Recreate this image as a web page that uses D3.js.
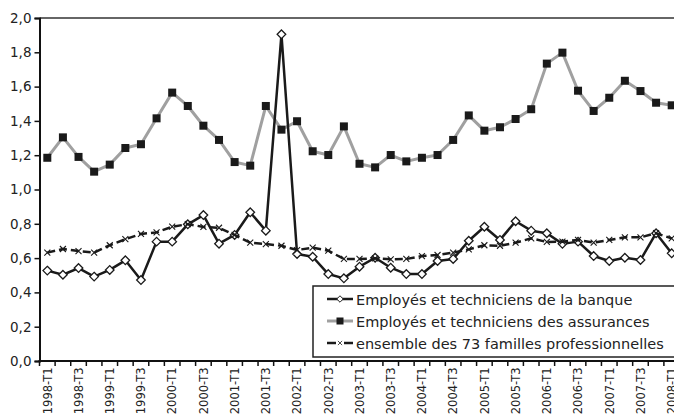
<!DOCTYPE html>
<html><head><meta charset="utf-8">
<script src="https://cdn.jsdelivr.net/npm/d3@7"></script>
<style>
html,body{margin:0;padding:0;background:#fff;}
svg{display:block;font-family:"DejaVu Sans",Verdana,sans-serif;}
</style></head>
<body>
<svg id="chart" width="674" height="417"></svg>
<script>
const categories = [];
for (let yr = 1998; yr <= 2008; yr++) for (let q = 1; q <= 4; q++) { if (yr === 2008 && q > 1) break; categories.push(yr + "-T" + q); }

const banque = [0.527,0.503,0.542,0.492,0.531,0.587,0.472,0.696,0.696,0.797,0.851,0.684,0.735,0.867,0.760,1.905,0.624,0.608,0.507,0.482,0.550,0.602,0.544,0.507,0.507,0.583,0.595,0.701,0.783,0.706,0.815,0.760,0.745,0.683,0.696,0.612,0.583,0.602,0.589,0.745,0.628];
const assurances = [1.185,1.304,1.190,1.104,1.145,1.242,1.264,1.415,1.565,1.487,1.372,1.289,1.160,1.139,1.487,1.349,1.398,1.223,1.201,1.368,1.150,1.129,1.201,1.164,1.185,1.201,1.289,1.432,1.343,1.363,1.411,1.468,1.734,1.798,1.576,1.458,1.535,1.634,1.574,1.506,1.491];
const ensemble = [0.632,0.653,0.641,0.632,0.675,0.710,0.741,0.750,0.783,0.798,0.782,0.777,0.735,0.690,0.682,0.672,0.647,0.661,0.643,0.595,0.595,0.599,0.593,0.595,0.612,0.618,0.632,0.651,0.675,0.672,0.690,0.715,0.694,0.696,0.706,0.690,0.706,0.721,0.721,0.745,0.715];
const seriesNames = ["Employés et techniciens de la banque","Employés et techniciens des assurances","ensemble des 73 familles professionnelles"];
const yTicks = [0,0.2,0.4,0.6,0.8,1.0,1.2,1.4,1.6,1.8,2.0];
const xTickLabels = categories.filter((d,i) => i % 2 === 0);

const svg = d3.select("#chart");
const mLeft = 39.5, mRight = 679.5, mTop = 18, mBottom = 361;

const x = d3.scaleBand().domain(categories).range([mLeft, mRight]).paddingInner(0).paddingOuter(0);
const xc = d => x(d) + x.bandwidth()/2;
const y = d3.scaleLinear().domain([0, 2]).range([mBottom, mTop]);

// top border
svg.append("line").attr("x1", mLeft).attr("x2", 700).attr("y1", mTop).attr("y2", mTop)
  .attr("stroke", "#333").attr("stroke-width", 1.5);

// y axis
const fmt = d => d3.format(".1f")(d).replace(".", ",");
const ya = svg.append("g").attr("transform", `translate(${mLeft},0)`)
  .call(d3.axisLeft(y).tickValues(yTicks).tickFormat(fmt).tickSize(5).tickPadding(3));
ya.select(".domain").attr("stroke", "#111").attr("stroke-width", 2);
ya.selectAll(".tick line").attr("stroke", "#111").attr("stroke-width", 1.5);
ya.selectAll(".tick text").attr("font-size", 13.5).attr("fill", "#222").attr("font-family", "DejaVu Sans, sans-serif");

// x axis ticks at band boundaries
const xa = svg.append("g").attr("transform", `translate(0,${mBottom})`);
xa.append("line").attr("x1", mLeft - 1).attr("x2", 700).attr("stroke", "#111").attr("stroke-width", 2);
const bounds = categories.map(c => x(c)).concat([mRight]);
xa.selectAll("line.tk").data(bounds).enter().append("line").attr("class","tk")
  .attr("x1", d => d).attr("x2", d => d).attr("y1", 0).attr("y2", 5)
  .attr("stroke", "#111").attr("stroke-width", 1.5);
xa.selectAll("text").data(xTickLabels).enter().append("text")
  .attr("transform", d => `translate(${xc(d) + 4.3},${6.5}) rotate(-90)`)
  .attr("text-anchor", "end").attr("font-size", 11.5).attr("fill", "#222")
  .text(d => d);

const line = d3.line().x((d,i) => xc(categories[i])).y(d => y(d));

// assurances
svg.append("path").datum(assurances).attr("d", line).attr("fill", "none")
  .attr("stroke", "#a0a0a0").attr("stroke-width", 3).attr("stroke-linejoin", "round");
svg.selectAll("rect.sq").data(assurances).enter().append("rect").attr("class","sq")
  .attr("x", (d,i) => xc(categories[i]) - 4).attr("y", d => y(d) - 4)
  .attr("width", 8).attr("height", 8).attr("fill", "#1a1a1a");

// banque
svg.append("path").datum(banque).attr("d", line).attr("fill", "none")
  .attr("stroke", "#1a1a1a").attr("stroke-width", 2.5).attr("stroke-linejoin", "round");
const diamond = "M0,-4.3L4.3,0L0,4.3L-4.3,0Z";
svg.selectAll("path.dm").data(banque).enter().append("path").attr("class","dm")
  .attr("d", diamond).attr("transform", (d,i) => `translate(${xc(categories[i])},${y(d)})`)
  .attr("fill", "#fff").attr("stroke", "#1a1a1a").attr("stroke-width", 1.3);

// ensemble
svg.append("path").datum(ensemble).attr("d", line).attr("fill", "none")
  .attr("stroke", "#1a1a1a").attr("stroke-width", 2.5).attr("stroke-dasharray", "8,4");
const cross = "M-3,-3L3,3M-3,3L3,-3";
svg.selectAll("path.cx").data(ensemble).enter().append("path").attr("class","cx")
  .attr("d", cross).attr("transform", (d,i) => `translate(${xc(categories[i])},${y(d)})`)
  .attr("fill", "none").attr("stroke", "#1a1a1a").attr("stroke-width", 1.1);

// legend
const lg = svg.append("g");
lg.append("rect").attr("x", 313).attr("y", 286).attr("width", 400).attr("height", 71)
  .attr("fill", "#fff").attr("stroke", "#222").attr("stroke-width", 1.5);
const rows = [299, 321, 343];
lg.append("line").attr("x1", 327).attr("x2", 353).attr("y1", rows[0]).attr("y2", rows[0]).attr("stroke", "#1a1a1a").attr("stroke-width", 2.5);
lg.append("path").attr("d", diamond).attr("transform", `translate(340,${rows[0]}) scale(0.75)`).attr("fill", "#fff").attr("stroke", "#1a1a1a").attr("stroke-width", 1.3);
lg.append("line").attr("x1", 327).attr("x2", 353).attr("y1", rows[1]).attr("y2", rows[1]).attr("stroke", "#a0a0a0").attr("stroke-width", 3);
lg.append("rect").attr("x", 336.5).attr("y", rows[1] - 3.5).attr("width", 7).attr("height", 7).attr("fill", "#1a1a1a");
lg.append("line").attr("x1", 327).attr("x2", 336).attr("y1", rows[2]).attr("y2", rows[2]).attr("stroke", "#1a1a1a").attr("stroke-width", 2.5);
lg.append("line").attr("x1", 344).attr("x2", 353).attr("y1", rows[2]).attr("y2", rows[2]).attr("stroke", "#1a1a1a").attr("stroke-width", 2.5);
lg.append("path").attr("d", cross).attr("transform", `translate(340,${rows[2]}) scale(0.7)`).attr("fill", "none").attr("stroke", "#1a1a1a").attr("stroke-width", 1.1);
lg.selectAll("text").data(seriesNames).enter().append("text")
  .attr("x", 356).attr("y", (d,i) => rows[i] + 5.5)
  .attr("font-size", 14.5).attr("fill", "#222").text(d => d);
</script>
</body></html>
